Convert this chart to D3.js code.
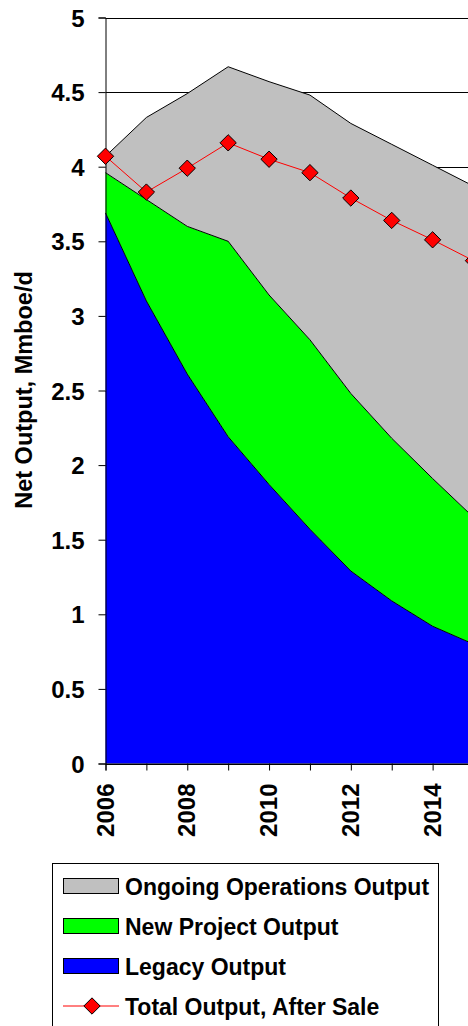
<!DOCTYPE html>
<html>
<head>
<meta charset="utf-8">
<script src="https://cdn.jsdelivr.net/npm/d3@7"></script>
<style>
  html, body { margin: 0; padding: 0; background: #fff; }
  svg { display: block; }
  text { font-family: "Liberation Sans", Arial, sans-serif; font-weight: bold; fill: #000; }
</style>
</head>
<body>
<svg id="chart" width="468" height="1026"></svg>
<script>
// Net output by source, Mmboe/d
const years = [2006, 2007, 2008, 2009, 2010, 2011, 2012, 2013, 2014, 2015];
const legacyOutput     = [3.69, 3.10, 2.61, 2.19, 1.87, 1.57, 1.29, 1.09, 0.92, 0.80];
const newProjectOutput = [0.27, 0.68, 0.99, 1.31, 1.27, 1.27, 1.19, 1.09, 0.99, 0.85];
const ongoingOutput    = [0.11, 0.55, 0.89, 1.17, 1.43, 1.64, 1.81, 1.97, 2.10, 2.22];
const totalAfterSale   = [4.07, 3.83, 3.99, 4.16, 4.05, 3.96, 3.79, 3.64, 3.51, 3.37];

const yTicks = [0, 0.5, 1, 1.5, 2, 2.5, 3, 3.5, 4, 4.5, 5];
const xTickLabels = [2006, 2008, 2010, 2012, 2014];

const seriesKeys = ["legacy", "newProject", "ongoing"];
const seriesNames = {
  ongoing: "Ongoing Operations Output",
  newProject: "New Project Output",
  legacy: "Legacy Output",
  total: "Total Output, After Sale"
};
const seriesColors = { legacy: "#0000FF", newProject: "#00FF00", ongoing: "#C0C0C0" };

const table = years.map((yr, i) => ({
  year: yr,
  legacy: legacyOutput[i],
  newProject: newProjectOutput[i],
  ongoing: ongoingOutput[i],
  total: totalAfterSale[i]
}));

const svg = d3.select("#chart");

const plotLeft = 105.5, plotTop = 17.5, plotBottom = 763.5, plotRight = 473.5;
const x = d3.scaleLinear().domain([2006, 2015]).range([plotLeft, plotRight]);
const y = d3.scaleLinear().domain([0, 5]).range([plotBottom, plotTop]);

// gridlines behind the areas
svg.append("g")
  .selectAll("line")
  .data(yTicks)
  .join("line")
  .attr("x1", plotLeft).attr("x2", 480)
  .attr("y1", d => Math.round(y(d)) + 0.5).attr("y2", d => Math.round(y(d)) + 0.5)
  .attr("stroke", "#000").attr("stroke-width", 1);

const stacked = d3.stack().keys(seriesKeys)(table);

const area = d3.area()
  .x(d => x(d.data.year))
  .y0(d => y(d[0]))
  .y1(d => y(d[1]));

const topLine = d3.line()
  .x(d => x(d.data.year))
  .y(d => y(d[1]));

const areas = svg.append("g");
areas.selectAll("path.area")
  .data(stacked)
  .join("path")
  .attr("class", "area")
  .attr("d", area)
  .attr("fill", s => seriesColors[s.key]);

areas.selectAll("path.edge")
  .data(stacked)
  .join("path")
  .attr("class", "edge")
  .attr("d", topLine)
  .attr("fill", "none")
  .attr("stroke", "#000")
  .attr("stroke-width", 1);

// y axis
const yAxis = d3.axisLeft(y)
  .tickValues(yTicks)
  .tickSize(7)
  .tickPadding(14)
  .tickFormat(d => String(d));

const yg = svg.append("g")
  .attr("transform", `translate(${plotLeft},0)`)
  .call(yAxis);
yg.select(".domain").attr("stroke", "#000");
yg.selectAll(".tick line").attr("stroke", "#000");
yg.selectAll(".tick text")
  .attr("font-size", 24)
  .attr("font-family", "'Liberation Sans', Arial, sans-serif")
  .attr("font-weight", "bold")
  .attr("fill", "#000")
  .attr("dy", "0.36em");

// x axis
const xAxis = d3.axisBottom(x)
  .tickValues(years)
  .tickSize(7)
  .tickFormat(d => (xTickLabels.includes(d) ? String(d) : ""));

const xg = svg.append("g")
  .attr("transform", `translate(0,${plotBottom})`)
  .call(xAxis);
xg.select(".domain").attr("stroke", "#000");
xg.selectAll(".tick line").attr("stroke", "#000");
xg.selectAll(".tick text")
  .attr("font-size", 24)
  .attr("font-family", "'Liberation Sans', Arial, sans-serif")
  .attr("font-weight", "bold")
  .attr("fill", "#000")
  .attr("text-anchor", "end")
  .attr("transform", "translate(0,20) rotate(-90)")
  .attr("x", 0)
  .attr("y", 0)
  .attr("dy", "0.32em");

// total after sale: line with diamond markers
const totalLine = d3.line()
  .x(d => x(d.year))
  .y(d => y(d.total));

svg.append("path")
  .datum(table)
  .attr("d", totalLine)
  .attr("fill", "none")
  .attr("stroke", "#FF0000")
  .attr("stroke-width", 1);

const diamond = d3.symbol().type(d3.symbolDiamond2).size(170);
svg.append("g")
  .selectAll("path")
  .data(table)
  .join("path")
  .attr("transform", d => `translate(${x(d.year)},${y(d.total)})`)
  .attr("d", diamond)
  .attr("fill", "#FF0000")
  .attr("stroke", "#000")
  .attr("stroke-width", 1);

// y axis title
svg.append("text")
  .attr("transform", "translate(32,390) rotate(-90)")
  .attr("text-anchor", "middle")
  .attr("font-size", 23.5)
  .text("Net Output, Mmboe/d");

// legend
const legend = svg.append("g");
legend.append("rect")
  .attr("x", 52.5).attr("y", 863.5)
  .attr("width", 386).attr("height", 180)
  .attr("fill", "#fff")
  .attr("stroke", "#000").attr("stroke-width", 1);

const legendItems = ["ongoing", "newProject", "legacy", "total"];
const rowY = d3.scalePoint().domain(legendItems).range([886, 1006]);

legendItems.forEach(key => {
  const cy = rowY(key);
  if (key === "total") {
    legend.append("line")
      .attr("x1", 63).attr("x2", 119)
      .attr("y1", cy).attr("y2", cy)
      .attr("stroke", "#FF0000").attr("stroke-width", 1);
    legend.append("path")
      .attr("transform", `translate(92,${cy})`)
      .attr("d", diamond)
      .attr("fill", "#FF0000")
      .attr("stroke", "#000").attr("stroke-width", 1);
  } else {
    legend.append("rect")
      .attr("x", 63.5).attr("y", cy - 7.5)
      .attr("width", 55).attr("height", 15)
      .attr("fill", seriesColors[key])
      .attr("stroke", "#000").attr("stroke-width", 1);
  }
  legend.append("text")
    .attr("x", 125)
    .attr("y", cy + 8.5)
    .attr("font-size", 23)
    .text(seriesNames[key]);
});
</script>
</body>
</html>
